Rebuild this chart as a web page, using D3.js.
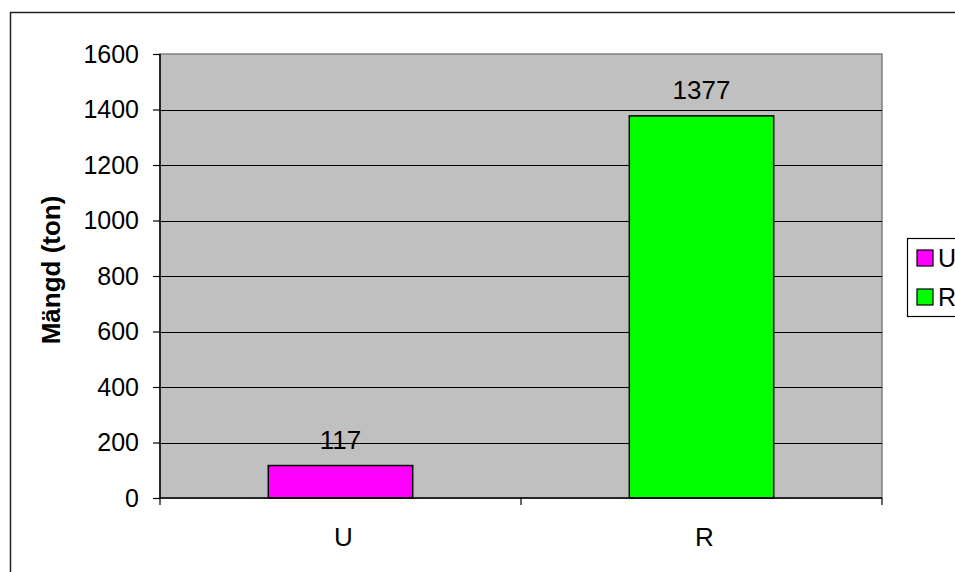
<!DOCTYPE html>
<html>
<head>
<meta charset="utf-8">
<script src="https://cdn.jsdelivr.net/npm/d3@7"></script>
<style>
  body { margin: 0; background: #fff; }
  text { font-family: "Liberation Sans", Arial, sans-serif; }
</style>
</head>
<body>
<div id="chart"></div>
<script>
const categories = ["U", "R"];
const values = [117, 1377];
const colors = ["#ff00ff", "#00ff00"];
const yTicks = [0, 200, 400, 600, 800, 1000, 1200, 1400, 1600];

const W = 955, H = 572;
const plot = {left: 160, top: 54, right: 882, bottom: 498};
const fontSize = 25;

const svg = d3.select("#chart")
    .append("svg")
    .attr("width", W)
    .attr("height", H);

// outer chart frame
svg.append("rect")
    .attr("x", 10.5).attr("y", 12.5)
    .attr("width", 1000).attr("height", 600)
    .attr("fill", "#fff")
    .attr("stroke", "#222")
    .attr("stroke-width", 1.5);

const x = d3.scaleBand()
    .domain(categories)
    .range([plot.left, plot.right])
    .padding(0);

const y = d3.scaleLinear()
    .domain([0, 1600])
    .range([plot.bottom, plot.top]);

// plot background
svg.append("rect")
    .attr("x", plot.left).attr("y", plot.top)
    .attr("width", plot.right - plot.left)
    .attr("height", plot.bottom - plot.top)
    .attr("fill", "#c0c0c0")
    .attr("stroke", "#808080")
    .attr("stroke-width", 1.5);

// gridlines
svg.append("g")
    .selectAll("line")
    .data(yTicks.slice(1, -1))
    .enter().append("line")
    .attr("x1", plot.left).attr("x2", plot.right)
    .attr("y1", d => Math.round(y(d)) + 0.5)
    .attr("y2", d => Math.round(y(d)) + 0.5)
    .attr("stroke", "#000")
    .attr("stroke-width", 1);

// bars
const barW = x.bandwidth() * 0.4;
svg.selectAll(".bar")
    .data(values)
    .enter().append("rect")
    .attr("class", "bar")
    .attr("x", (d, i) => x(categories[i]) + (x.bandwidth() - barW) / 2)
    .attr("y", d => y(d))
    .attr("width", barW)
    .attr("height", d => plot.bottom - y(d))
    .attr("fill", (d, i) => colors[i])
    .attr("stroke", "#000")
    .attr("stroke-width", 1.5);

// value labels
svg.selectAll(".label")
    .data(values)
    .enter().append("text")
    .attr("class", "label")
    .attr("x", (d, i) => x(categories[i]) + x.bandwidth() / 2)
    .attr("y", d => y(d) - 17)
    .attr("text-anchor", "middle")
    .style("font-size", "26px")
    .attr("fill", "#000")
    .text(d => d);

// y axis
const yAxis = svg.append("g")
    .attr("transform", `translate(${plot.left},0)`)
    .call(d3.axisLeft(y).tickValues(yTicks).tickFormat(d3.format("d")).tickSize(7).tickPadding(14));
yAxis.select(".domain").attr("stroke", "#000").attr("stroke-width", 1.5)
    .attr("d", `M0,${plot.top}V${plot.bottom}`);
yAxis.selectAll(".tick line").attr("stroke", "#000").attr("stroke-width", 1.2);
yAxis.selectAll(".tick text")
    .style("font-size", fontSize + "px")
    .style("font-family", "Liberation Sans, Arial, sans-serif")
    .attr("fill", "#000");

// x axis
const xAxis = svg.append("g")
    .attr("transform", `translate(0,${plot.bottom})`)
    .call(d3.axisBottom(x).tickSize(0).tickPadding(30));
xAxis.select(".domain").attr("stroke", "#000").attr("stroke-width", 1.5)
    .attr("d", `M${plot.left},0H${plot.right}`);
xAxis.selectAll(".tick text")
    .style("font-size", "26px")
    .style("font-family", "Liberation Sans, Arial, sans-serif")
    .attr("dx", 3)
    .attr("fill", "#000");

// x category separators
const xEdges = [plot.left, ...categories.map(c => x(c) + x.bandwidth())];
svg.append("g")
    .selectAll("line")
    .data(xEdges)
    .enter().append("line")
    .attr("x1", d => d).attr("x2", d => d)
    .attr("y1", plot.bottom).attr("y2", plot.bottom + 7)
    .attr("stroke", "#000")
    .attr("stroke-width", 1.2);

// y axis title
svg.append("text")
    .attr("transform", `translate(60,270) rotate(-90)`)
    .attr("text-anchor", "middle")
    .style("font-size", "26px")
    .attr("font-weight", "bold")
    .text("Mängd (ton)");

// legend
const legend = svg.append("g").attr("transform", "translate(907,238)");
legend.append("rect")
    .attr("x", 0.5).attr("y", 0.5)
    .attr("width", 120).attr("height", 78)
    .attr("fill", "#fff")
    .attr("stroke", "#000")
    .attr("stroke-width", 1.2);
const items = legend.selectAll(".item")
    .data(categories)
    .enter().append("g")
    .attr("transform", (d, i) => `translate(10,${12 + i * 39})`);
items.append("rect")
    .attr("width", 16).attr("height", 16)
    .attr("fill", (d, i) => colors[i])
    .attr("stroke", "#000")
    .attr("stroke-width", 1.2);
items.append("text")
    .attr("x", 21).attr("y", 17)
    .style("font-size", fontSize + "px")
    .text(d => d);
</script>
</body>
</html>
